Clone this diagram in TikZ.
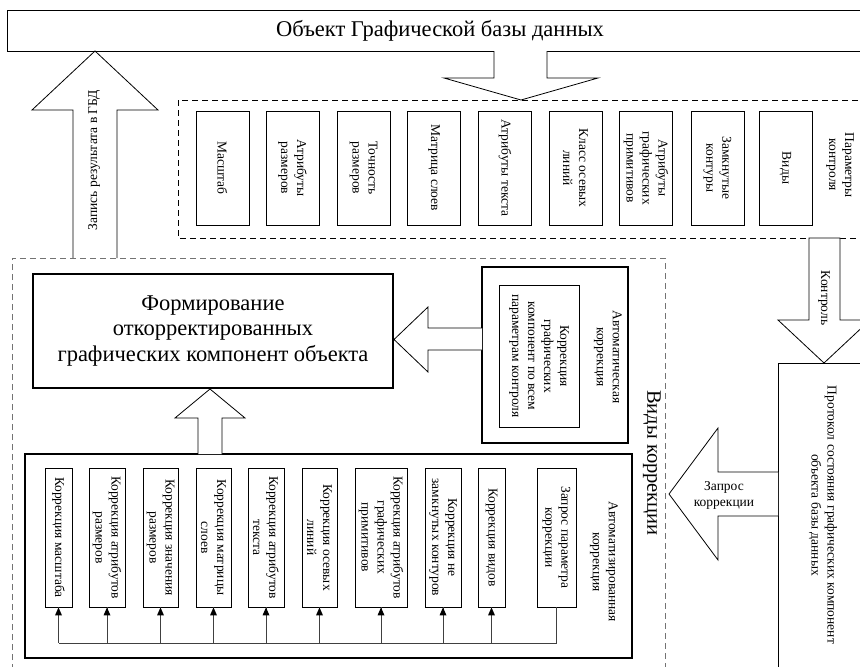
\documentclass[tikz,border=0pt]{standalone}
\usepackage{fontspec}
\setmainfont{Liberation Serif}
\usetikzlibrary{arrows.meta}
\begin{document}
\begin{tikzpicture}[x=1pt,y=-1pt,
  thin line/.style={line width=0.8pt},
  thick line/.style={line width=2.2pt},
  smallfont/.style={font=\fontsize{13.5}{16}\selectfont},
  bigfont/.style={font=\fontsize{22.5}{25.5}\selectfont},
  pbox/.style={draw,thin line,smallfont,align=center,rotate=-90,inner sep=1pt,minimum width=114pt,minimum height=53pt},
  cbox/.style={draw,thin line,smallfont,align=center,rotate=-90,inner sep=1pt,minimum width=139pt},
  vlabel/.style={smallfont,align=center,rotate=-90,inner sep=0pt},
  blockarrow/.style={draw,thin line,fill=white,line join=miter},
  dashbox/.style={thin line,dash pattern=on 6pt off 4pt},
  busline/.style={thin line,draw=black!75},
  bustip/.style={fill=black}
]
\useasboundingbox (0,0) rectangle (860,667);
\clip (0,0) rectangle (860,667);
\fill[white] (0,0) rectangle (860,667);

% Title
\node[draw,thin line,bigfont,minimum width=866pt,minimum height=41pt,inner sep=0pt] (title) at (440,30.5) {Объект Графической базы данных};

% Parameters dashed frame
\draw[dashbox] (178,100) rectangle (880,238);

% Down arrow from title
\draw[blockarrow] (494,51) -- (494,78) -- (444,78) -- (521,100) -- (598,78) -- (547,78) -- (547,51);

% Parameter boxes
\node[pbox] (p1) at (222.5,168) {Масштаб};
\node[pbox] (p2) at (292.5,168) {Атрибуты\\размеров};
\node[pbox] (p3) at (363.5,168) {Точность\\размеров};
\node[pbox] (p4) at (434,168) {Матрица слоев};
\node[pbox] (p5) at (505,168) {Атрибуты текста};
\node[pbox] (p6) at (575.5,168) {Класс осевых\\линий};
\node[pbox] (p7) at (646,168) {Атрибуты\\графических\\примитивов};
\node[pbox] (p8) at (717.5,168) {Замкнутые\\контуры};
\node[pbox] (p9) at (785.5,168) {Виды};
\node[vlabel] (pctl) at (840,165) {Параметры\\контроля};

% Write-result arrow
\draw[blockarrow] (73,258) -- (73,110) -- (32,110) -- (95,51) -- (158,110) -- (117,110) -- (117,258);
\node[smallfont,rotate=90,inner sep=0pt] (wr) at (94,160) {Запись результата в ГБД};

% Correction kinds dashed frame
\draw[dashbox,draw=black!55] (12,680) -- (12,258) -- (665,258) -- (665,680);
\node[font=\fontsize{20.5}{24}\selectfont,rotate=-90,inner sep=0pt] (vk) at (652,463) {Виды коррекции};

% Formation box
\node[draw,thick line,bigfont,align=center,minimum width=360pt,minimum height=114pt,inner sep=0pt] (form) at (213,331)
  {Формирование\\откорректированных\\графических компонент объекта};

% Automatic correction box
\draw[thick line] (482,267) rectangle (628,443);
\node[cbox,minimum width=142pt,minimum height=80pt] (autoin) at (539,356)
  {Коррекция\\графических\\компонент по всем\\параметрам контроля};
\node[vlabel] (autolbl) at (608,357) {Автоматическая\\коррекция};

% Left arrow auto -> formation
\draw[blockarrow] (482,328) -- (428,328) -- (428,307) -- (394,339.5) -- (428,372) -- (428,350) -- (482,350);

% Automated correction box
\draw[thick line] (25,454) rectangle (632,658);

% Up arrow -> formation
\draw[blockarrow] (198,454) -- (198,418) -- (175,418) -- (210,389) -- (245,418) -- (222,418) -- (222,454);

% Correction boxes
\node[cbox,minimum height=27pt] (b1) at (58.5,537.5) {Коррекция масштаба};
\node[cbox,minimum height=36pt] (b2) at (107,537.5) {Коррекция атрибутов\\размеров};
\node[cbox,minimum height=35pt] (b3) at (160.5,537.5) {Коррекция значения\\размеров};
\node[cbox,minimum height=35pt] (b4) at (213.5,537.5) {Коррекция матрицы\\слоев};
\node[cbox,minimum height=36pt] (b5) at (266,537.5) {Коррекция атрибутов\\текста};
\node[cbox,minimum height=35pt] (b6) at (319.5,537.5) {Коррекция осевых\\линий};
\node[cbox,minimum height=52pt] (b7) at (381,537.5) {Коррекция атрибутов\\графических\\примитивов};
\node[cbox,minimum height=36pt] (b8) at (443,537.5) {Коррекция не\\замкнутых контуров};
\node[cbox,minimum height=27pt] (b9) at (491.5,537.5) {Коррекция видов};
\node[cbox,minimum height=39pt] (b10) at (556.5,537.5) {Запрос параметра\\коррекции};
\node[vlabel] (amlbl) at (604,562) {Автоматизированная\\коррекция};

% Bus
\coordinate (busL) at (58.5,643);
\coordinate (busR) at (556.5,643);
\draw[busline] (b10.east) -- (busR) -- (busL);
\foreach \bx in {b1,b2,b3,b4,b5,b6,b7,b8,b9}{
  \draw[busline] (\bx.east |- busL) -- (\bx.east);
  \fill[bustip] (\bx.east) -- ++(-3.5,8) -- ++(7,0) -- cycle;
}

% Control arrow
\draw[blockarrow] (809,238) -- (809,320) -- (778,320) -- (824,363) -- (870,320) -- (840,320) -- (840,238) -- cycle;
\node[smallfont,rotate=-90,inner sep=0pt] (ctl) at (824,298) {Контроль};

% Protocol box
\draw[thin line] (880,363) -- (778,363) -- (778,690);
\node[vlabel] (prot) at (823,515) {Протокол состояния графических компонент\\объекта базы данных};

% Request arrow
\draw[blockarrow] (778,472) -- (718,472) -- (718,428) -- (669,494) -- (718,560) -- (718,516) -- (778,516);
\node[smallfont,align=center,inner sep=0pt] (req) at (724,495) {Запрос\\коррекции};

\end{tikzpicture}
\end{document}
